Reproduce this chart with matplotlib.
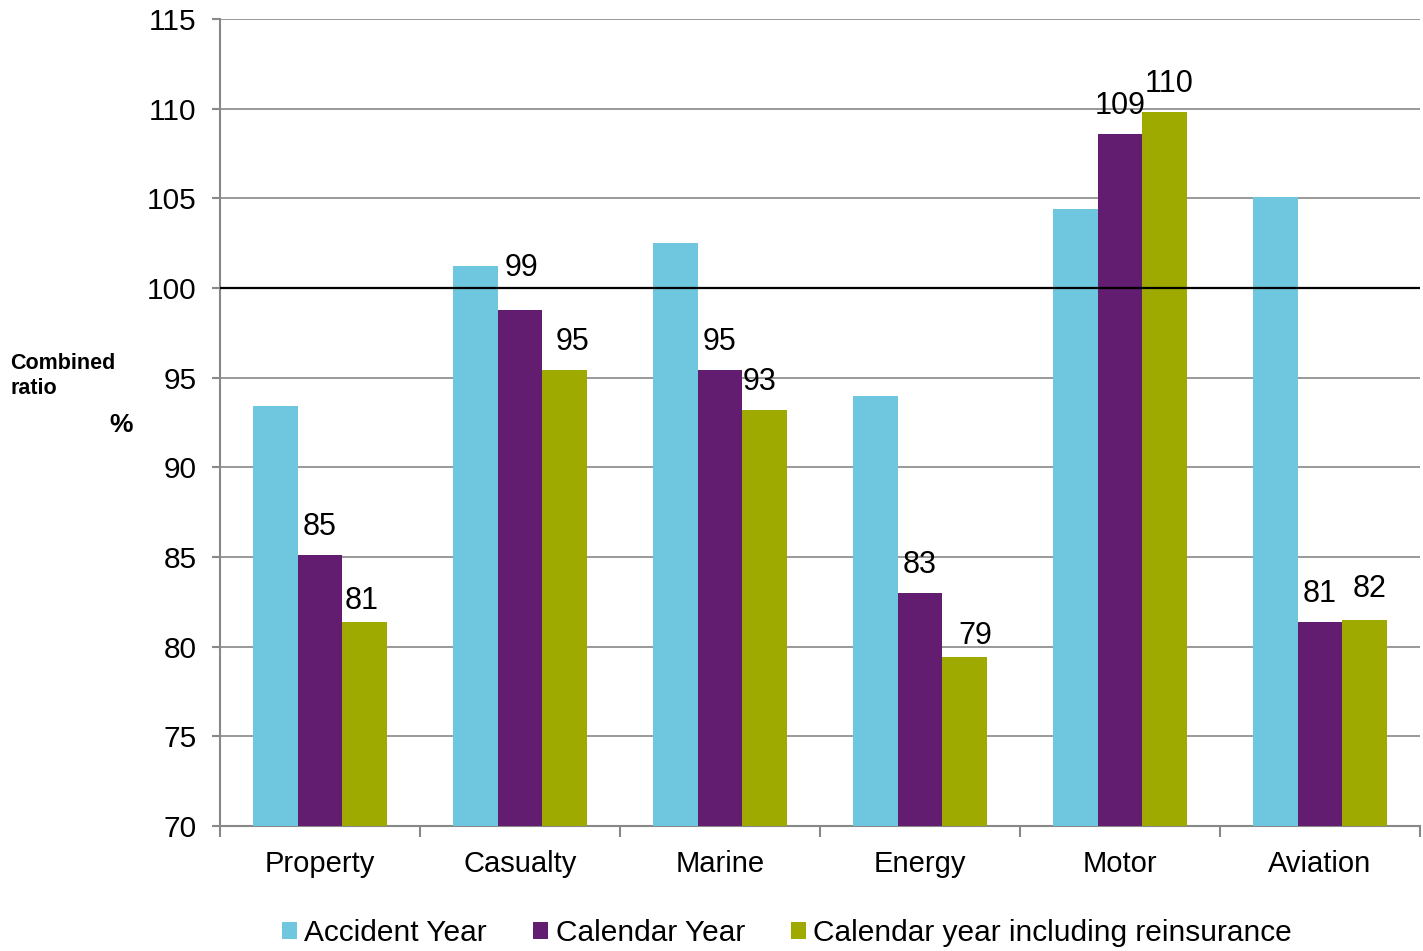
import matplotlib
matplotlib.use("Agg")
import matplotlib.pyplot as plt
import numpy as np

categories = ["Property", "Casualty", "Marine", "Energy", "Motor", "Aviation"]
series_names = ["Accident Year", "Calendar Year", "Calendar year including reinsurance"]
accident_year = [93.4, 101.2, 102.5, 94.0, 104.4, 105.1]
calendar_year = [85.1, 98.8, 95.4, 83.0, 108.6, 81.4]
calendar_reins = [81.4, 95.4, 93.2, 79.4, 109.8, 81.5]
yticks = list(range(70, 116, 5))

colors = ["#6EC7DE", "#621C70", "#9FAA00"]

plt.rcParams["font.family"] = ["Liberation Sans", "DejaVu Sans"]

W, H = 1423, 951
fig = plt.figure(figsize=(W / 100, H / 100), dpi=100)
ax = fig.add_axes([220 / W, 1 - 826 / H, 1200 / W, (826 - 19) / H])

x = np.arange(len(categories))
w = 0.222
offsets = [-w, 0, w]
all_series = [accident_year, calendar_year, calendar_reins]

for vals, off, col, name in zip(all_series, offsets, colors, series_names):
    ax.bar(x + off, vals, width=w, color=col, label=name, zorder=3)

# label placement tweaks (dx, dy in pixels) for crowded spots
nudges = {
    (1, 1): (2, 14),
    (1, 2): (8, 0),
    (2, 2): (-5, 0),
    (3, 2): (11, -7),
    (4, 2): (5, 0),
    (5, 2): (5, 3),
    (0, 2): (-3, -7),
}
px_per_unit = (826 - 19) / 45.0
px_per_cat = 1200 / len(categories)
for si in (1, 2):
    vals = all_series[si]
    for i, v in enumerate(vals):
        dx, dy = nudges.get((i, si), (0, 0))
        xp = x[i] + offsets[si] + dx / px_per_cat
        yp = v + (28 + dy) / px_per_unit
        ax.text(xp, yp, f"{int(np.floor(v + 0.5))}", ha="center", va="center",
                fontsize=22, color="black", zorder=5)

ax.set_xlim(-0.5, len(categories) - 0.5)
ax.set_ylim(70, 115)
ax.set_yticks(yticks)
ax.set_yticklabels([str(t) for t in yticks], fontsize=21.5)
ax.yaxis.grid(True, color="#888888", linewidth=1.2, zorder=0)
ax.axhline(100, color="black", linewidth=1.6, zorder=4)

ax.set_xticks(x)
ax.set_xticklabels(categories, fontsize=21)
ax.tick_params(axis="x", length=0, pad=17)
ax.set_xticks(np.arange(-0.5, len(categories)), minor=True)
ax.tick_params(axis="x", which="minor", length=8, color="#888888", width=1.5)
ax.tick_params(axis="y", length=6, color="#888888", width=1.5, pad=11)

for s in ["top", "right"]:
    ax.spines[s].set_visible(False)
for s in ["left", "bottom"]:
    ax.spines[s].set_color("#888888")
    ax.spines[s].set_linewidth(1.5)

fig.text(10 / W, 1 - 376 / H, "Combined\nratio", fontsize=15.5, fontweight="bold",
         ha="left", va="center", linespacing=1.25)
fig.text(121 / W, 1 - 425 / H, "%", fontsize=19, fontweight="bold",
         ha="center", va="center")

fig.legend(loc="center", bbox_to_anchor=(787 / W, 1 - 933 / H), ncol=3,
           frameon=False, fontsize=21.5, handlelength=0.5, handleheight=0.5,
           handletextpad=0.25, columnspacing=1.55)

fig.savefig("out.png", dpi=100)
